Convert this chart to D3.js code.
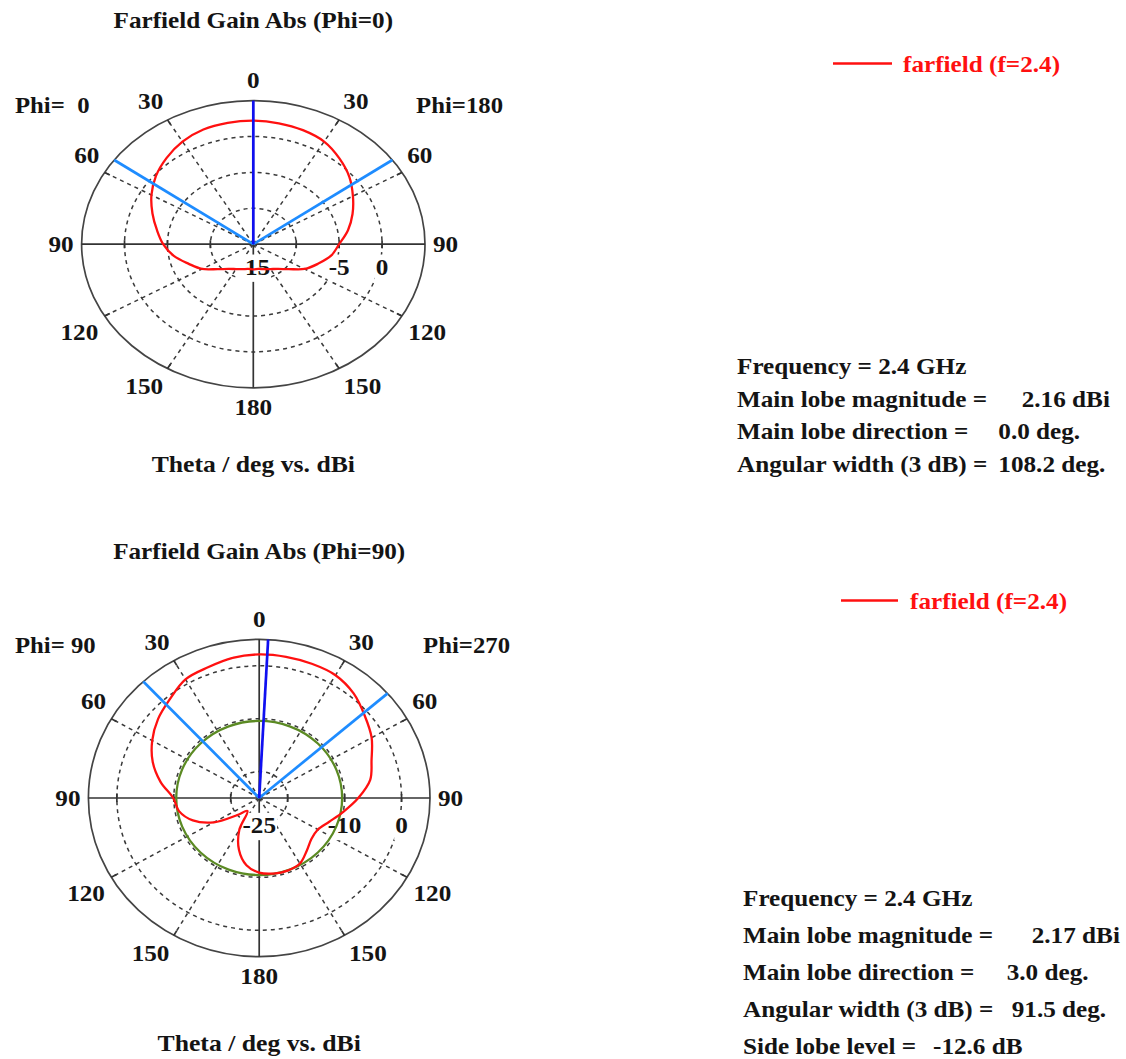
<!DOCTYPE html>
<html><head><meta charset="utf-8">
<script src="https://cdn.jsdelivr.net/npm/d3@7"></script>
<style>
body{margin:0;background:#fff}
text{font-family:"Liberation Serif","Times New Roman",serif;font-weight:bold;white-space:pre}
</style>
</head><body>
<svg id="c" width="1126" height="1059"></svg>
<script>
// ---------- data ----------
const thetaDeg = [0,10,20,30,40,50,60,70,80,90,100,110,120,130,140,150,160,170,180];
// cut 1 (Phi = 0 / 180), dBi
const gainPhi0   = [2.2,2.15,2.0,1.5,0.7,-0.2,-1.3,-2.5,-3.6,-4.5,-5.6,-7.0,-8.1,-9.6,-10.5,-11.0,-11.3,-11.5,-11.5];
const gainPhi180 = [2.2,2.1,1.9,1.5,0.6,-0.4,-1.6,-2.7,-3.8,-5.0,-5.8,-7.0,-8.1,-9.6,-10.5,-11.0,-11.3,-11.5,-11.5];
// cut 2 (Phi = 90 / 270), dBi
const gainPhi90  = [2.15,1.9,1.3,0.9,-0.6,-1.8,-3.3,-5.1,-7.4,-9.9,-10.7,-12.6,-15.8,-20.0,-21.8,-18.0,-14.6,-12.1,-10.9];
const gainPhi270 = [2.15,2.1,2.0,1.8,0.8,-0.8,-2.2,-4.0,-5.2,-7.6,-10.0,-11.9,-13.1,-13.0,-12.0,-10.7,-10.4,-10.5,-10.9];

const angleTicks = [0,30,60,90,120,150,180];
const ringTicksTop = [-10,-5,0];
const ringLabelsTop = [-15,-5,0];
const ringTicksBottom = [-20,-10,0];
const ringLabelsBottom = [-25,-10,0];
const radialDomainTop = [-15,5];
const radialDomainBottom = [-25,5];

const frequencyGHz = 2.4;
const mainLobeMag = [2.16, 2.17];
const mainLobeDir = [0.0, 3.0];
const angWidth3dB = [108.2, 91.5];
const sideLobeLevel = [null, -12.6];
const cutTitles = ["Farfield Gain Abs (Phi=0)", "Farfield Gain Abs (Phi=90)"];
const leftPhiLabels = ["Phi=  0", "Phi= 90"];
const rightPhiLabels = ["Phi=180", "Phi=270"];
const legendLabel = "farfield (f=2.4)";
const axisTitle = "Theta / deg vs. dBi";

// ---------- layout ----------
const FS = 24, SX = 1.05, SXS = 1.05;
const TXT = "#141414";
const charts = [
  {cx:253.3, cy:244.2, rx:171.7, ry:143.6, domain:radialDomainTop, rings:ringTicksTop, ringLabels:ringLabelsTop,
   left:gainPhi0, right:gainPhi180, idx:0, titleY:28, xlabY:471.5, phiY:113, ringLabDy:22.5,
   legend:{x1:833,x2:892,y:63.5,tx:903}, stats:{x:737,y0:374,dy:32.7,vx:[null,1021.7,998.3,998.3]}},
  {cx:259.2, cy:798, rx:170.8, ry:158.7, domain:radialDomainBottom, rings:ringTicksBottom, ringLabels:ringLabelsBottom,
   left:gainPhi90, right:gainPhi270, idx:1, titleY:559, xlabY:1051, phiY:653, ringLabDy:27,
   legend:{x1:841,x2:898,y:600.5,tx:910}, stats:{x:743,y0:906,dy:37,vx:[null,1031.7,1006.7,1011.7,933]}}
];
const nudgeH = {0:0,30:6.5,60:0,90:0,120:7.5,150:13,180:0};
const nudgeV = {0:0,30:1,60:7.5,90:0,120:5.5,150:-0.5,180:-1.5};

const svg = d3.select("#c");
const rad = d => d*Math.PI/180;

function txt(g, s, x, y, o={}) {
  const gg = g.append("g").attr("transform", `translate(${x},${y}) scale(${o.sx||SX},1)`);
  const t = gg.append("text").attr("text-anchor", o.anchor||"middle")
    .style("font-size", (o.size||FS)+"px").attr("fill", o.fill||TXT).text(s);
  if (o.central) t.attr("dominant-baseline","central");
  if (o.bg) {
    const b = t.node().getBBox();
    gg.insert("rect","text").attr("x",b.x-1).attr("y",b.y+1).attr("width",b.width+2).attr("height",b.height+1).attr("fill","#fff");
  }
  return gg;
}

charts.forEach(c => {
  const g = svg.append("g");
  const r = d3.scaleLinear().domain(c.domain).range([0,1]).clamp(true);
  const P = (ang, norm) => [c.cx + norm*c.rx*Math.sin(rad(ang)), c.cy - norm*c.ry*Math.cos(rad(ang))];
  const Pdb = (ang, db) => P(ang, r(db));
  const seg = (a, n0, n1) => { const p0=P(a,n0), p1=P(a,n1); return `M${p0}L${p1}`; };

  // dashed rings
  g.selectAll(".ring").data(c.rings).join("ellipse")
    .attr("cx",c.cx).attr("cy",c.cy).attr("rx",d=>r(d)*c.rx).attr("ry",d=>r(d)*c.ry)
    .attr("fill","none").attr("stroke","#3a3a3a").attr("stroke-width",1.5).attr("stroke-dasharray","4,4");
  // dashed spokes
  const spokes = [];
  angleTicks.filter(a=>a%90!==0).forEach(a=>{spokes.push(a); spokes.push(-a);});
  g.selectAll(".spoke").data(spokes).join("path").attr("d",a=>seg(a,0,1))
    .attr("stroke","#3a3a3a").attr("stroke-width",1.5).attr("stroke-dasharray","4,4").attr("fill","none");
  // outer ellipse
  g.append("ellipse").attr("cx",c.cx).attr("cy",c.cy).attr("rx",c.rx).attr("ry",c.ry)
    .attr("fill","none").attr("stroke","#444").attr("stroke-width",1.7);
  // solid axes
  g.append("path").attr("d", `M${P(-90,1)}L${P(90,1)}`).attr("stroke","#333").attr("stroke-width",1.7);
  g.append("path").attr("d", `M${P(0,1)}L${P(180,1)}`).attr("stroke","#333").attr("stroke-width",1.7);
  // ticks on horizontal axis at rings
  const hticks = [];
  c.rings.forEach(d=>{hticks.push(P(90,r(d))); hticks.push(P(-90,r(d)));});
  g.selectAll(".ht").data(hticks).join("line")
    .attr("x1",d=>d[0]).attr("x2",d=>d[0]).attr("y1",d=>d[1]-4).attr("y2",d=>d[1]+4)
    .attr("stroke","#333").attr("stroke-width",1.7);
  // ticks on outer ring at spokes
  g.selectAll(".ot").data(spokes).join("path").attr("d",a=>seg(a,0.965,1))
    .attr("stroke","#333").attr("stroke-width",1.7);

  // ring labels (with white background)
  c.ringLabels.forEach(d=>{
    const p = P(90, r(d));
    txt(g, String(d), p[0], c.cy + c.ringLabDy, {central:true, bg:true});
  });

  // angle labels
  angleTicks.forEach(a=>{
    const sides = (a===0||a===180) ? [1] : [-1,1];
    sides.forEach(s=>{
      const ang = s*a;
      const x = c.cx + (c.rx+20.5)*Math.sin(rad(ang)) + s*nudgeH[a];
      const cosv = Math.cos(rad(ang));
      const y = c.cy - (c.ry+20.5)*cosv - Math.sign(cosv)*nudgeV[a];
      txt(g, String(a), x, y, {central:true});
    });
  });

  // side lobe level circle
  const sll = sideLobeLevel[c.idx];
  if (sll !== null) {
    const lvl = mainLobeMag[c.idx] + sll;
    g.append("ellipse").attr("cx",c.cx).attr("cy",c.cy).attr("rx",r(lvl)*c.rx).attr("ry",r(lvl)*c.ry)
      .attr("fill","none").attr("stroke","#5b8a23").attr("stroke-width",2.3);
  }

  // pattern curve
  const pts = [];
  thetaDeg.forEach((t,i)=>pts.push(Pdb(-t, c.left[i])));
  for (let i = thetaDeg.length-2; i >= 1; i--) pts.push(Pdb(thetaDeg[i], c.right[i]));
  g.append("path").attr("d", d3.line().curve(d3.curveCatmullRomClosed.alpha(0.5))(pts))
    .attr("fill","none").attr("stroke","#ff1010").attr("stroke-width",2.3);

  // 3 dB width lines
  const md = mainLobeDir[c.idx], hw = angWidth3dB[c.idx]/2;
  [md-hw, md+hw].forEach(a=>{
    g.append("path").attr("d",seg(a,0,1)).attr("stroke","#1e8cff").attr("stroke-width",2.7).attr("fill","none");
  });
  // main lobe direction
  g.append("path").attr("d",seg(md,0,1)).attr("stroke","#1010f0").attr("stroke-width",2.7).attr("fill","none");

  // titles
  txt(g, cutTitles[c.idx], c.cx, c.titleY);
  txt(g, axisTitle, c.cx, c.xlabY, {sx:1.07});
  txt(g, leftPhiLabels[c.idx], 15, c.phiY, {anchor:"start", sx:1.03});
  txt(g, rightPhiLabels[c.idx], c.idx===0?503:510, c.phiY, {anchor:"end", sx:1.03});

  // legend
  g.append("line").attr("x1",c.legend.x1).attr("x2",c.legend.x2).attr("y1",c.legend.y).attr("y2",c.legend.y)
    .attr("stroke","#ff1010").attr("stroke-width",2.4);
  txt(g, legendLabel, c.legend.tx, c.legend.y, {anchor:"start", central:true, fill:"#ff1010", sx:1.05});

  // statistics
  const labels = [`Frequency = ${frequencyGHz} GHz`, "Main lobe magnitude =", "Main lobe direction =", "Angular width (3 dB) ="];
  const vals = [null, `${mainLobeMag[c.idx].toFixed(2)} dBi`, `${mainLobeDir[c.idx].toFixed(1)} deg.`, `${angWidth3dB[c.idx].toFixed(1)} deg.`];
  if (sll !== null) { labels.push("Side lobe level ="); vals.push(`${sll.toFixed(1)} dB`); }
  labels.forEach((l,i)=>{
    const y = c.stats.y0 + i*c.stats.dy;
    txt(g, l, c.stats.x, y, {anchor:"start", sx:SXS});
    if (vals[i]) txt(g, vals[i], c.stats.vx[i], y, {anchor:"start", sx:SXS});
  });
});
</script>
</body></html>
